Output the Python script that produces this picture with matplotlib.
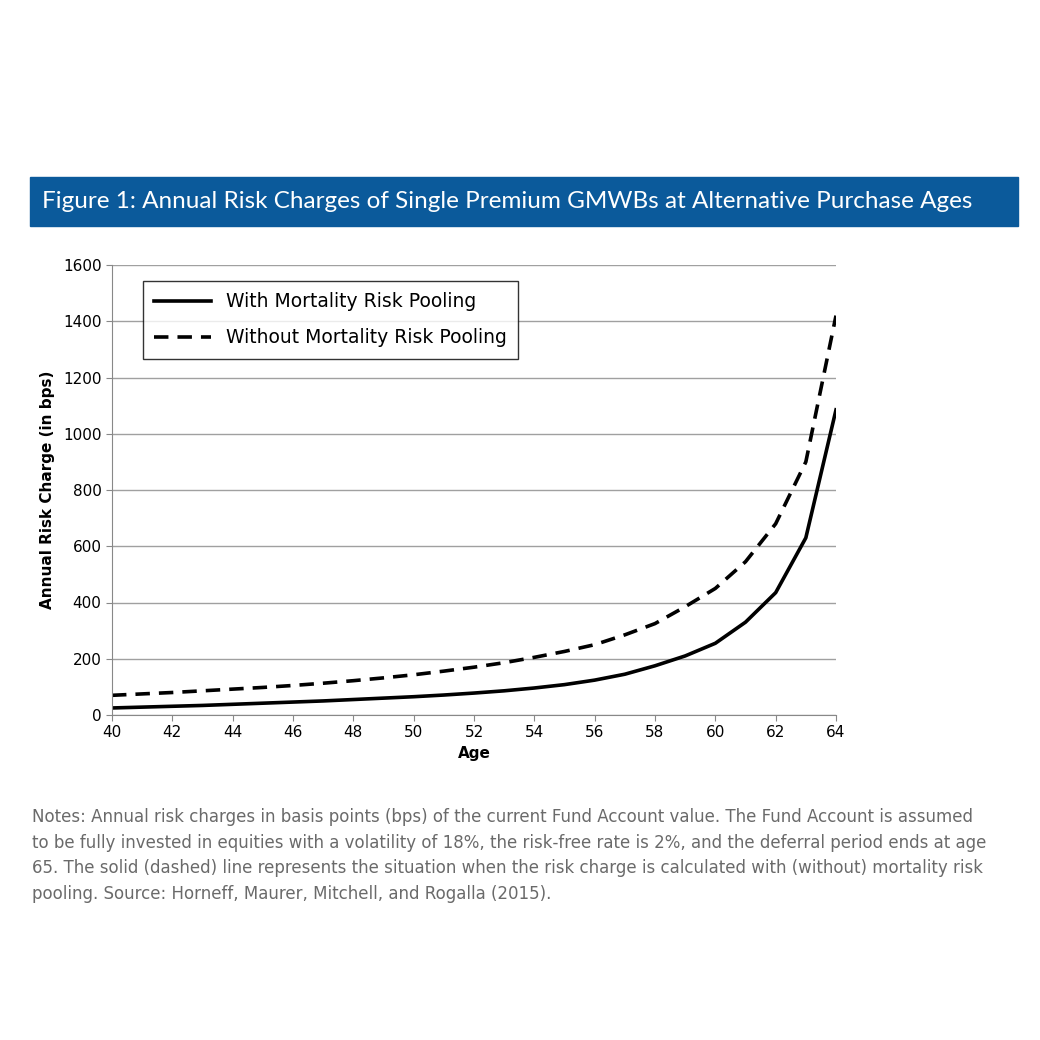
import matplotlib
matplotlib.use("Agg")
import matplotlib.pyplot as plt
from matplotlib.patches import Rectangle

ages = list(range(40, 65))
with_pooling = [25, 28, 31, 34, 38, 42, 46, 50, 55, 60, 65, 71, 78, 86, 96, 108, 124, 145, 175, 210, 255, 330, 435, 630, 1085]
without_pooling = [70, 75, 80, 86, 92, 98, 105, 113, 122, 132, 143, 156, 170, 186, 205, 226, 250, 285, 325, 385, 450, 545, 680, 900, 1420]
xticks = list(range(40, 65, 2))
yticks = list(range(0, 1601, 200))

fig = plt.figure(figsize=(10.4, 10.4), dpi=100)
fig.patches.append(Rectangle((30/1040, 1-226/1040), 988/1040, 49/1040, transform=fig.transFigure, color="#0b5a9b", zorder=0))
fig.text(42/1040, 1-202/1040, "Figure 1: Annual Risk Charges of Single Premium GMWBs at Alternative Purchase Ages",
         color="white", fontsize=17.5, family="Lato", va="center", ha="left")

ax = fig.add_axes([112/1040, 1-715/1040, 724/1040, 450/1040])
ax.plot(ages, with_pooling, color="black", lw=2.6, label="With Mortality Risk Pooling")
ax.plot(ages, without_pooling, color="black", lw=2.6, ls=(0, (4, 2.5)), label="Without Mortality Risk Pooling")
ax.set_xlim(40, 64)
ax.set_ylim(0, 1600)
ax.set_xticks(xticks)
ax.set_yticks(yticks)
ax.grid(axis="y", color="#a0a0a0", lw=1)
ax.set_axisbelow(True)
for s in ["top", "right"]:
    ax.spines[s].set_visible(False)
ax.spines["left"].set_color("#888")
ax.spines["bottom"].set_color("#888")
ax.tick_params(labelsize=11, length=4, color="#888")
ax.set_xlabel("Age", fontsize=11, fontweight="bold", labelpad=4)
ax.set_ylabel("Annual Risk Charge (in bps)", fontsize=11, fontweight="bold", labelpad=6)
leg = ax.legend(loc="upper left", bbox_to_anchor=(0.03, 0.985), fontsize=13.5, frameon=True,
                fancybox=False, edgecolor="black", handlelength=3, labelspacing=0.9, borderpad=0.6)
leg.get_frame().set_linewidth(1)

notes = ("Notes: Annual risk charges in basis points (bps) of the current Fund Account value. The Fund Account is assumed\n"
         "to be fully invested in equities with a volatility of 18%, the risk-free rate is 2%, and the deferral period ends at age\n"
         "65. The solid (dashed) line represents the situation when the risk charge is calculated with (without) mortality risk\n"
         "pooling. Source: Horneff, Maurer, Mitchell, and Rogalla (2015).")
fig.text(32/1040, 1-808/1040, notes, color="#6a6a6a", fontsize=12, va="top", ha="left", linespacing=1.55)
fig.savefig("out.png", dpi=100, facecolor="white")
